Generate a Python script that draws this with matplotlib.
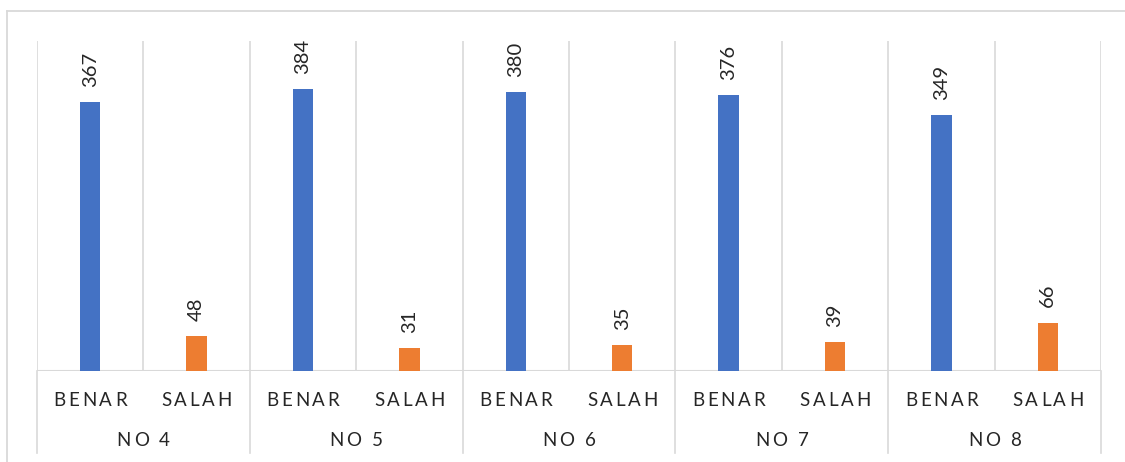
import matplotlib.pyplot as plt
from matplotlib.lines import Line2D
from matplotlib.font_manager import FontProperties, findfont
from matplotlib.ft2font import FT2Font

groups = ["NO 4", "NO 5", "NO 6", "NO 7", "NO 8"]
answers = ["BENAR", "SALAH"]
benar = [367, 384, 380, 376, 349]
salah = [48, 31, 35, 39, 66]

blue = "#4472C4"
orange = "#ED7D31"
grid = "#D9D9D9"
txt = "#262626"

plt.rcParams["font.family"] = ["Lato", "DejaVu Sans"]

fig = plt.figure(figsize=(11.25, 4.62), dpi=100)
ax = fig.add_axes([37 / 1125, 1 - 371 / 462, (1101 - 37) / 1125, 330 / 462])
fp = FontProperties(family="Lato", size=13.5)
ft = FT2Font(findfont(fp))
ft.set_size(13.5, 100)


def advance(c):
    return ft.load_char(ord(c)).linearHoriAdvance / 65536


def spaced_text(x, y, s, track=2.8):
    # draw letters one by one to mimic Excel's letter spacing
    widths = [advance(c) for c in s]
    total = sum(widths) + track * (len(s) - 1)
    pos = -total / 2
    for c, wd in zip(s, widths):
        ax.annotate(c, (x, y), xycoords=ax.get_xaxis_transform(),
                    xytext=(pos * 72 / 100, 0), textcoords="offset points",
                    ha="left", va="center", fontproperties=fp, color=txt,
                    annotation_clip=False)
        pos += wd + track


w = 0.19
for i in range(len(groups)):
    xb = 2 * i
    xs = 2 * i + 1
    ax.bar(xb, benar[i], width=w, color=blue, zorder=3)
    ax.bar(xs, salah[i], width=w, color=orange, zorder=3)
    for x, v in ((xb, benar[i]), (xs, salah[i])):
        ax.annotate(str(v), (x, v), xytext=(0, 11), textcoords="offset points",
                    rotation=90, ha="center", va="bottom", fontsize=14.5, color=txt)

ax.set_xlim(-0.5, 2 * len(groups) - 0.5)
ax.set_ylim(0, 450)

# vertical separators
for k in range(2 * len(groups) + 1):
    ax.axvline(k - 0.5, color=grid, lw=1.2, zorder=1)
    if k % 2 == 0:
        ax.plot([k - 0.5, k - 0.5], [0, -82 / 330], color=grid, lw=1.2,
                transform=ax.get_xaxis_transform(), clip_on=False)
ax.axhline(0, color=grid, lw=1.5, zorder=2)

# category labels
for i, g in enumerate(groups):
    for j, a in enumerate(answers):
        spaced_text(2 * i + j, -29 / 330, a)
    spaced_text(2 * i + 0.5, -69 / 330, g)

ax.set_xticks([])
ax.set_yticks([])
for s in ax.spines.values():
    s.set_visible(False)

# outer chart border (partly cropped)
fig.add_artist(Line2D([7 / 1125, 7 / 1125], [0, 1 - 11 / 462], color=grid, lw=1.3))
fig.add_artist(Line2D([7 / 1125, 1], [1 - 11 / 462, 1 - 11 / 462], color=grid, lw=1.3))

fig.savefig("out.png", dpi=100)
